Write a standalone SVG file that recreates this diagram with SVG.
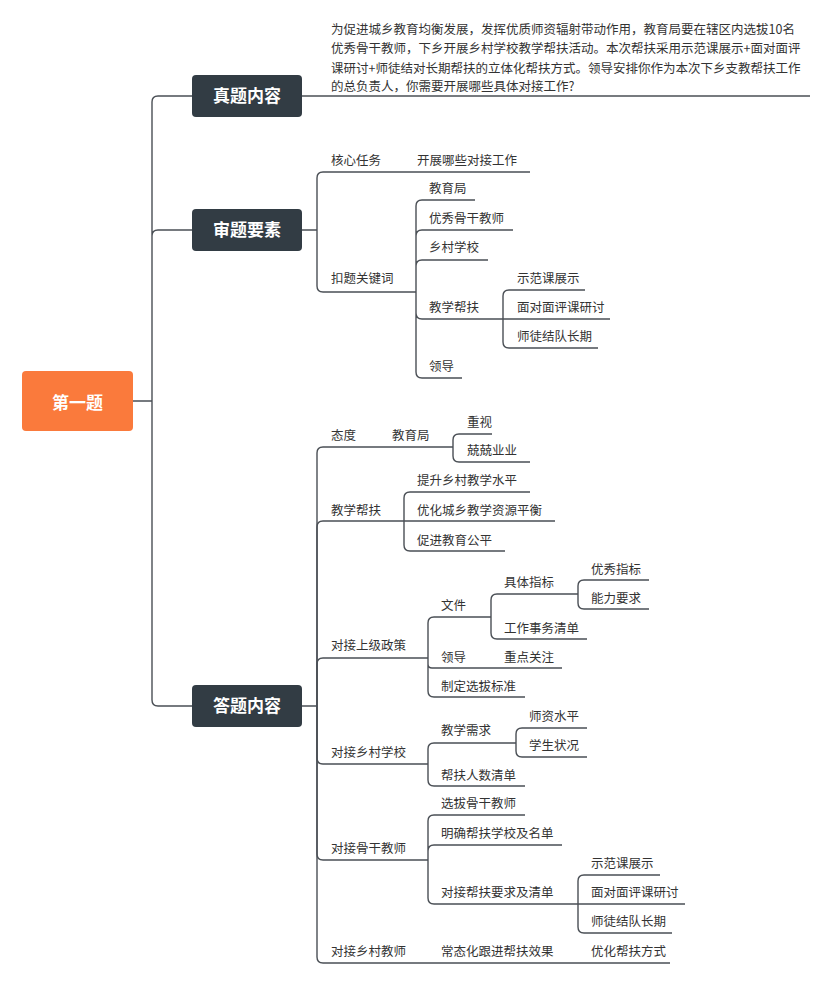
<svg xmlns="http://www.w3.org/2000/svg" width="833" height="984" viewBox="0 0 833 984">
<style>
.c{fill:none;stroke:#4a4f55;stroke-width:1.4}
.t{font-family:"Noto Sans CJK SC","Noto Sans",sans-serif;font-size:12.5px;fill:#333}
.m{fill:#323c44}
.mt{font-family:"Noto Sans CJK SC",sans-serif;font-size:17px;font-weight:bold;fill:#fff;text-anchor:middle}
</style>
<rect width="833" height="984" fill="#fff"/>
<g id="connectors" class="c">
<path d="M133 401H152M152 401V102Q152 96 158 96H192M152 401V236Q152 230 158 230H192M152 401V700Q152 706 158 706H192"/>
<path d="M302 96H810"/>
<path d="M302 230H317M317 230V178Q317 172 323 172H530M317 230V286Q317 292 323 292H416"/>
<path d="M416 292V206Q416 200 422 200H475M416 292V236Q416 230 422 230H513M416 292V266Q416 260 422 260H488M416 292V313Q416 319 422 319H503M416 292V372Q416 378 422 378H462"/>
<path d="M503 319V296Q503 290 509 290H585M503 319H610M503 319V342Q503 348 509 348H598"/>
<path d="M302 706H317M317 706V453Q317 447 323 447H453M453 447V440Q453 434 459 434H492M453 447V456Q453 462 459 462H530"/>
<path d="M317 706V527Q317 521 323 521H404M404 521V498Q404 492 410 492H530M404 521H555M404 521V545Q404 551 410 551H505"/>
<path d="M317 706V664Q317 658 323 658H428M428 658V623Q428 617 434 617H491M428 658V664Q428 668 432 668H562M428 658V691Q428 697 434 697H525"/>
<path d="M491 617V600Q491 594 497 594H578M491 617V633Q491 639 497 639H587M578 594V586Q578 580 584 580H649M578 594V603Q578 609 584 609H649"/>
<path d="M317 706V758Q317 764 323 764H428M428 764V749Q428 743 434 743H516M428 764V780Q428 786 434 786H525M516 743V734Q516 728 522 728H587M516 743V751Q516 757 522 757H587"/>
<path d="M317 706V854Q317 860 323 860H428M428 860V821Q428 815 434 815H525M428 860V851Q428 845 434 845H562M428 860V898Q428 904 434 904H578"/>
<path d="M578 904V881Q578 875 584 875H660M578 904H685M578 904V927Q578 933 584 933H672"/>
<path d="M317 706V957Q317 963 323 963H670"/>
</g>
<g id="root"><rect x="22" y="371" width="111" height="60" rx="4" fill="#fa7a3c"/><text x="77.5" y="409" class="mt" font-size="20">第一题</text></g>
<g id="n1"><rect x="192" y="75" width="110" height="42" rx="4" class="m"/><text x="247" y="102" class="mt">真题内容</text></g>
<g id="n2"><rect x="192" y="209" width="110" height="42" rx="4" class="m"/><text x="247" y="236" class="mt">审题要素</text></g>
<g id="n3"><rect x="192" y="685" width="110" height="42" rx="4" class="m"/><text x="247" y="712" class="mt">答题内容</text></g>
<g id="para" class="t">
<text x="331" y="34">为促进城乡教育均衡发展，发挥优质师资辐射带动作用，教育局要在辖区内选拔10名</text>
<text x="331" y="53">优秀骨干教师，下乡开展乡村学校教学帮扶活动。本次帮扶采用示范课展示+面对面评</text>
<text x="331" y="73">课研讨+师徒结对长期帮扶的立体化帮扶方式。领导安排你作为本次下乡支教帮扶工作</text>
<text x="331" y="91">的总负责人，你需要开展哪些具体对接工作?</text>
</g>
<g id="leaves" class="t">
<text x="331" y="165">核心任务</text><text x="417" y="165">开展哪些对接工作</text>
<text x="331" y="283">扣题关键词</text>
<text x="429" y="193">教育局</text><text x="429" y="223">优秀骨干教师</text><text x="429" y="252">乡村学校</text><text x="429" y="312">教学帮扶</text><text x="429" y="371">领导</text>
<text x="517" y="283">示范课展示</text><text x="517" y="312">面对面评课研讨</text><text x="517" y="341">师徒结队长期</text>
<text x="331" y="440">态度</text><text x="392" y="440">教育局</text><text x="467" y="427">重视</text><text x="467" y="455">兢兢业业</text>
<text x="331" y="515">教学帮扶</text><text x="417" y="485">提升乡村教学水平</text><text x="417" y="515">优化城乡教学资源平衡</text><text x="417" y="545">促进教育公平</text>
<text x="331" y="650">对接上级政策</text><text x="441" y="610">文件</text><text x="504" y="587">具体指标</text><text x="591" y="574">优秀指标</text><text x="591" y="603">能力要求</text><text x="504" y="633">工作事务清单</text>
<text x="441" y="662">领导</text><text x="504" y="662">重点关注</text><text x="441" y="691">制定选拔标准</text>
<text x="331" y="757">对接乡村学校</text><text x="441" y="735">教学需求</text><text x="529" y="721">师资水平</text><text x="529" y="750">学生状况</text><text x="441" y="780">帮扶人数清单</text>
<text x="331" y="853">对接骨干教师</text><text x="441" y="808">选拔骨干教师</text><text x="441" y="838">明确帮扶学校及名单</text><text x="441" y="897">对接帮扶要求及清单</text>
<text x="591" y="868">示范课展示</text><text x="591" y="897">面对面评课研讨</text><text x="591" y="926">师徒结队长期</text>
<text x="331" y="956">对接乡村教师</text><text x="441" y="956">常态化跟进帮扶效果</text><text x="591" y="956">优化帮扶方式</text>
</g>
</svg>
